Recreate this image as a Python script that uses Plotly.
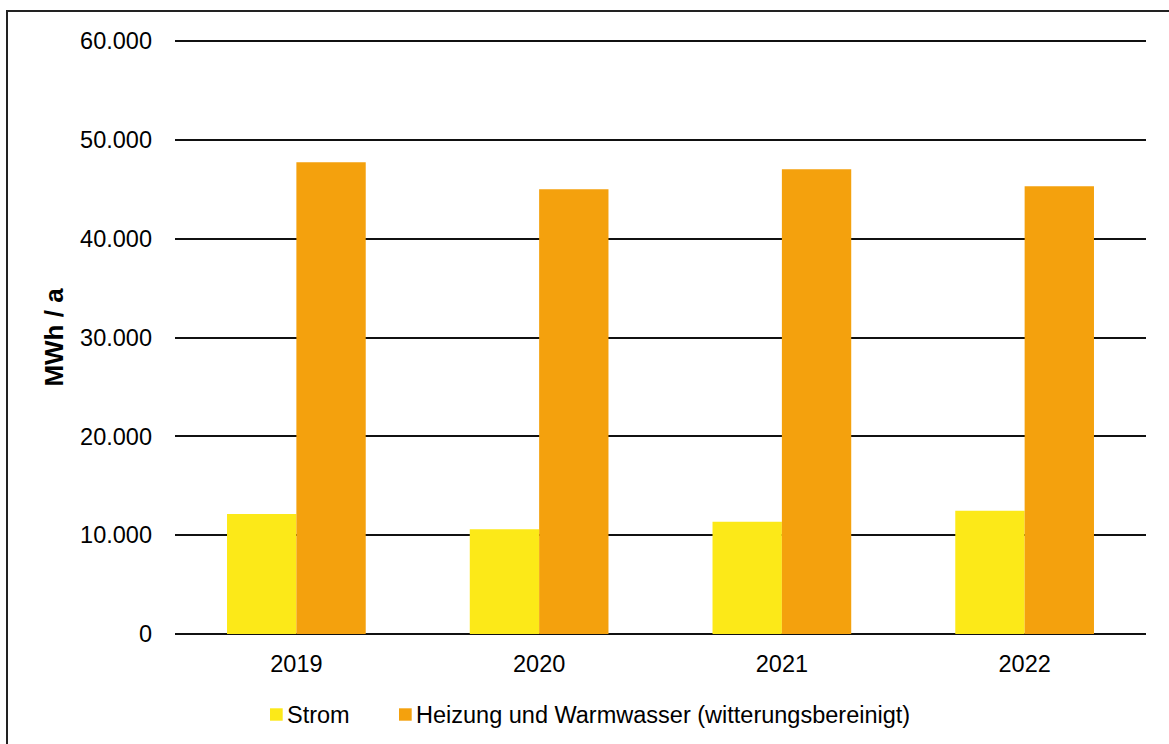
import plotly.graph_objects as go

# Annual energy consumption per year
years = ["2019", "2020", "2021", "2022"]
strom = [12140, 10590, 11360, 12480]
heizung = [47730, 45000, 47020, 45300]

series_names = ["Strom", "Heizung und Warmwasser (witterungsbereinigt)"]
series_colors = ["#FCE918", "#F4A10D"]

y_ticks = [0, 10000, 20000, 30000, 40000, 50000, 60000]
y_tick_text = ["0", "10.000", "20.000", "30.000", "40.000", "50.000", "60.000"]

W, H = 1169, 744
L, R, T, B = 175, 23, 41, 110
pw, ph = W - L - R, H - T - B

font = "Liberation Sans, Arial, sans-serif"
fs = 23.5


def px_x(x):
    return (x - L) / pw


def px_y(y):
    return (T + ph - y) / ph


fig = go.Figure()
for name, vals, col in zip(series_names, [strom, heizung], series_colors):
    fig.add_trace(go.Bar(x=years, y=vals, name=name,
                         marker=dict(color=col, line=dict(width=0))))

# Outer frame around the chart
fig.add_shape(type="rect", xref="paper", yref="paper",
              x0=px_x(7), x1=px_x(1172), y0=px_y(H + 5), y1=px_y(11),
              line=dict(color="#222222", width=2), fillcolor="rgba(0,0,0,0)",
              layer="below")

# Top gridline along the upper edge of the plot area
fig.add_shape(type="line", xref="paper", yref="paper", x0=0, x1=1, y0=1, y1=1,
              line=dict(color="#111111", width=1.8), layer="below")

# Legend: coloured squares followed by their labels
legend_y = px_y(714.5)
legend_x = [270, 399]
for lx, name, col in zip(legend_x, series_names, series_colors):
    fig.add_shape(type="rect", xref="paper", yref="paper",
                  x0=px_x(lx), x1=px_x(lx + 12.7),
                  y0=px_y(720.7), y1=px_y(708.3),
                  line=dict(width=0), fillcolor=col)
    fig.add_annotation(xref="paper", yref="paper", x=px_x(lx + 15), y=legend_y,
                       text=name, showarrow=False, xanchor="left", yanchor="middle",
                       font=dict(family=font, size=fs, color="black"))

fig.update_layout(
    width=W, height=H,
    margin=dict(l=L, r=R, t=T, b=B, autoexpand=False),
    paper_bgcolor="white", plot_bgcolor="white",
    barmode="group", bargap=1.5 / 3.5, bargroupgap=0,
    font=dict(family=font, size=fs, color="black"),
    showlegend=False,
    xaxis=dict(showgrid=False, showline=False, ticks="",
               tickfont=dict(size=fs), ticklabelstandoff=13),
    yaxis=dict(range=[0, 60000], tickvals=y_ticks, ticktext=y_tick_text,
               showgrid=True, gridcolor="#111111", gridwidth=1.6,
               zeroline=True, zerolinecolor="#111111", zerolinewidth=1.6,
               showline=False, ticks="", ticklabelstandoff=22,
               tickfont=dict(size=fs),
               title=dict(text="<b>MWh / a</b>", font=dict(size=26), standoff=9)),
)

fig.write_html("out.html")
